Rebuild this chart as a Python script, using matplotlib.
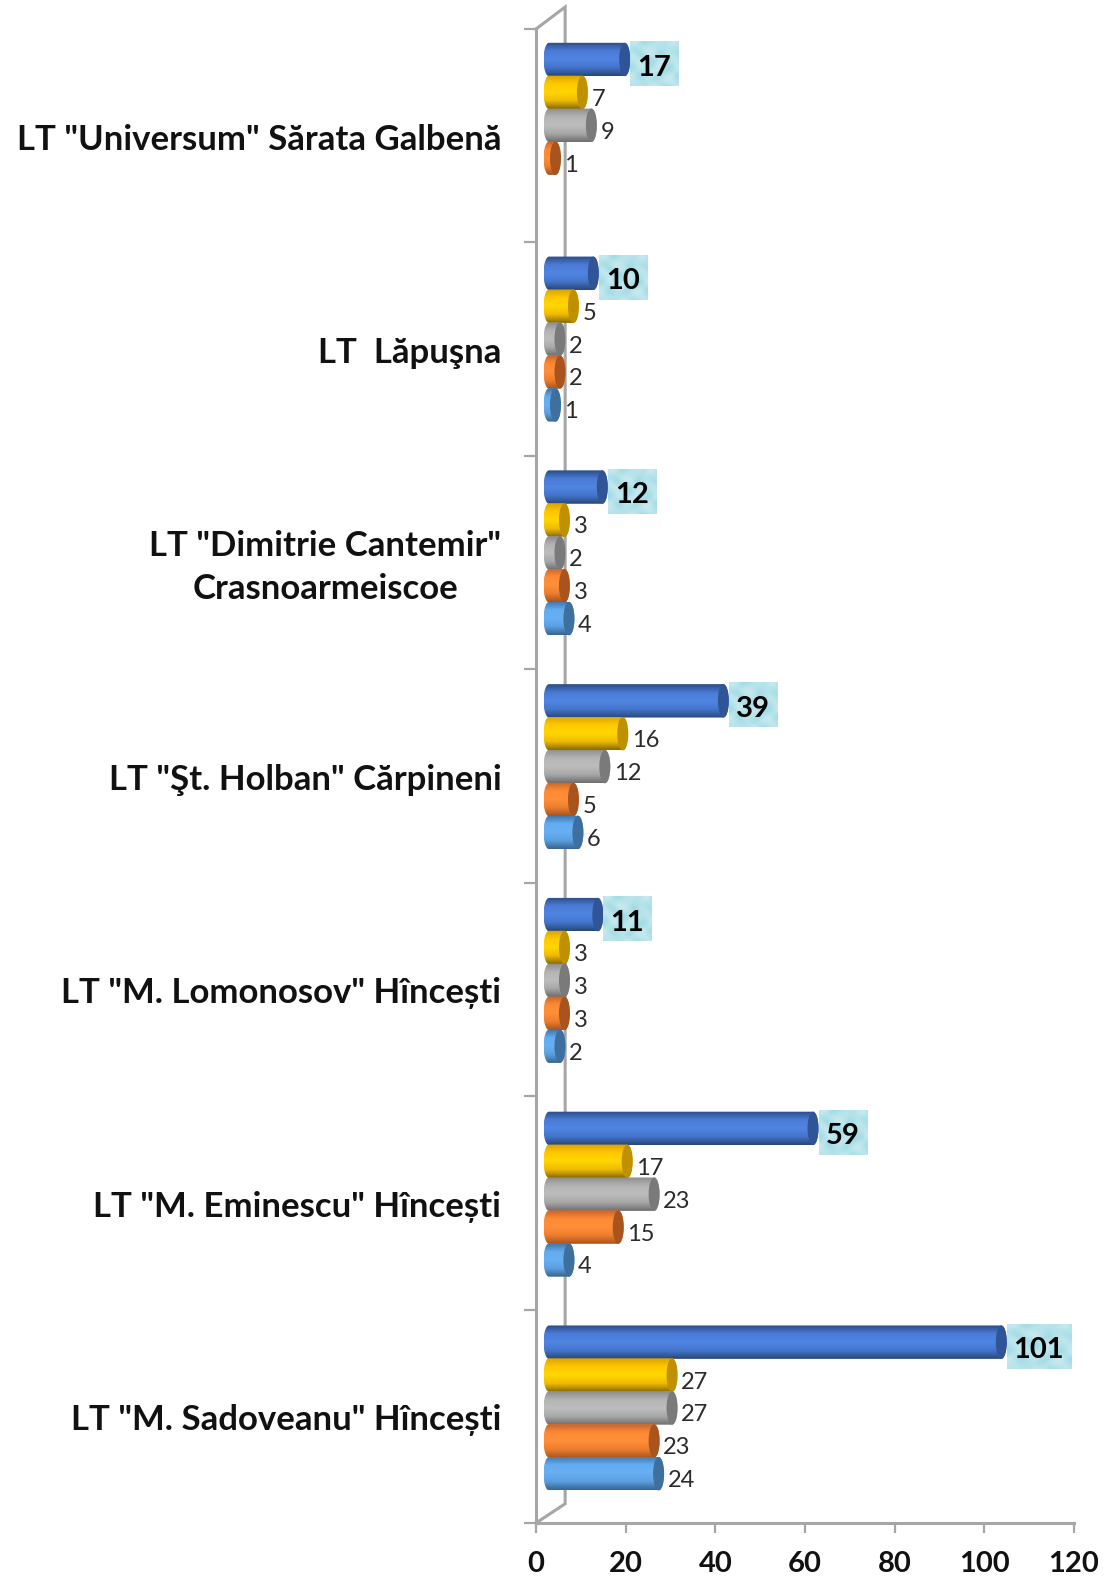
import numpy as np
import matplotlib
matplotlib.use("Agg")
import matplotlib.pyplot as plt
from matplotlib.colors import LinearSegmentedColormap
from matplotlib.patches import Ellipse, PathPatch
from matplotlib.path import Path

FONT = ["Lato", "Noto Sans", "DejaVu Sans"]
plt.rcParams["font.family"] = FONT

schools = ['LT "Universum" Sărata Galbenă', 'LT  Lăpuşna',
           'LT "Dimitrie Cantemir"\nCrasnoarmeiscoe', 'LT "Şt. Holban" Cărpineni',
           'LT "M. Lomonosov" Hîncești', 'LT "M. Eminescu" Hîncești',
           'LT "M. Sadoveanu" Hîncești']
series_a = [17, 10, 12, 39, 11, 59, 101]
series_b = [7, 5, 3, 16, 3, 17, 27]
series_c = [9, 2, 2, 12, 3, 23, 27]
series_d = [1, 2, 3, 5, 3, 15, 23]
series_e = [None, 1, 4, 6, 2, 4, 24]
x_ticks = [0, 20, 40, 60, 80, 100, 120]

W, H = 1113, 1578
L, R, T, B = 536, 1074, 29, 1523
fig = plt.figure(figsize=(W / 100, H / 100), dpi=100, facecolor="white")
ax = fig.add_axes([L / W, 1 - B / H, (R - L) / W, (B - T) / H])

ux = (R - L) / 120      # px per x unit
uy = (B - T) / 7        # px per y unit
depth = 13 / ux
cap_w = 5.5 / ux
bar_h = 33.4 / uy
first = 30.5 / uy
step = 32.9 / uy
drift = 0.35 / uy

palettes = [
    (["#2c4c86", "#4a7bd6", "#5085e2", "#4475cc", "#294878"], "#2f5597"),
    (["#d9a300", "#ffc800", "#ffd700", "#f0bb00", "#8a6c00"], "#bf9000"),
    (["#8c8c8c", "#b4b4b4", "#bdbdbd", "#a8a8a8", "#6f6f6f"], "#7a7a7a"),
    (["#c9652a", "#ff8a35", "#ff8f3a", "#ee7d2d", "#a65520"], "#a9541f"),
    (["#3f75a8", "#63acf0", "#68b0f2", "#5a9fe0", "#38668f"], "#3d6f9f"),
]
series = [series_a, series_b, series_c, series_d, series_e]

# back wall of the 3D frame
gray = "#a6a6a6"
wall_x = 6.5
ax.plot([0, wall_x, wall_x, 0], [0, -0.103, 7 - 0.09, 7], color=gray, lw=2.2,
        clip_on=False, zorder=1, solid_joinstyle="miter")

# mottled fill of the highlighted value boxes
gx, gy = np.meshgrid(np.linspace(0, 9, 80), np.linspace(0, 7, 60))
mottle = np.sin(gx * 1.7 + np.sin(gy * 1.3) * 2) + np.sin(gy * 2.1 + np.cos(gx * 0.9) * 2)
box_cmap = LinearSegmentedColormap.from_list("box", ["#a3dce6", "#c6e9ee"])

grad = np.linspace(0, 1, 64).reshape(-1, 1)
for s, vals in enumerate(series):
    cmap = LinearSegmentedColormap.from_list(f"c{s}", palettes[s][0])
    cap_col = palettes[s][1]
    rim = (-0.5 if s == 0 else 2.0) / ux
    for i, v in enumerate(vals):
        if v is None:
            continue
        yc = i + first + s * step + i * drift
        x0 = depth
        x1 = depth + v + rim
        t = np.linspace(np.pi / 2, 3 * np.pi / 2, 30)
        left = np.c_[x0 + cap_w * np.cos(t), yc - bar_h / 2 * np.sin(t)]
        t2 = np.linspace(3 * np.pi / 2, 5 * np.pi / 2, 30)
        right = np.c_[x1 + cap_w * np.cos(t2), yc - bar_h / 2 * np.sin(t2)]
        verts = np.vstack([left, right, left[:1]])
        patch = PathPatch(Path(verts), transform=ax.transData, fc="none", ec="none")
        ax.add_patch(patch)
        im = ax.imshow(grad, cmap=cmap, aspect="auto", interpolation="bilinear",
                       extent=(x0 - cap_w, x1 + cap_w, yc + bar_h / 2, yc - bar_h / 2),
                       zorder=2 + s * 0.1, origin="upper")
        im.set_clip_path(patch)
        ax.add_patch(Ellipse((x1, yc), 2 * cap_w, bar_h, fc=cap_col, ec="none",
                             zorder=2.05 + s * 0.1))
        if s == 0:
            bw = (15.5 * len(str(v)) + 18) / ux
            bx = x1 + cap_w
            by = yc + 4 / uy
            ax.imshow(mottle, cmap=box_cmap, aspect="auto", interpolation="bilinear",
                      extent=(bx, bx + bw, by + 22.5 / uy, by - 22.5 / uy),
                      zorder=2.9, origin="upper")
            ax.annotate(str(v), (bx + bw / 2 - 0.5 / ux, yc + 8 / uy), ha="center", va="center",
                        fontsize=21, fontweight="bold", color="#000000", zorder=4)
        else:
            ax.annotate(str(v), (x1 + cap_w, yc + 7 / uy), xytext=(2.5, 0),
                        textcoords="offset points", ha="left", va="center",
                        fontsize=17, color="#2b2b2b", zorder=4)

ax.set_xlim(0, 120)
ax.set_ylim(7, 0)
ax.patch.set_alpha(0)

for side in ("top", "right"):
    ax.spines[side].set_visible(False)
for side in ("left", "bottom"):
    ax.spines[side].set_color(gray)
    ax.spines[side].set_linewidth(2.2)

ax.set_xticks(x_ticks)
ax.set_xticklabels([str(v) for v in x_ticks], fontsize=21, fontweight="bold", color="#111111")
ax.tick_params(axis="x", length=7, width=1.6, color=gray, pad=13.5)

ax.set_yticks(range(8))
ax.set_yticklabels([])
ax.tick_params(axis="y", which="major", length=9, width=1.6, color=gray)
label_y = np.arange(7) + 0.505
label_y[2] -= 5 / uy
ax.set_yticks(label_y, minor=True)
ax.set_yticklabels(schools, minor=True, fontsize=25, fontweight="bold", color="#111111",
                   multialignment="center", linespacing=1.43)
ax.tick_params(axis="y", which="minor", length=0, pad=25)

fig.savefig("out.png", dpi=100, facecolor="white")
